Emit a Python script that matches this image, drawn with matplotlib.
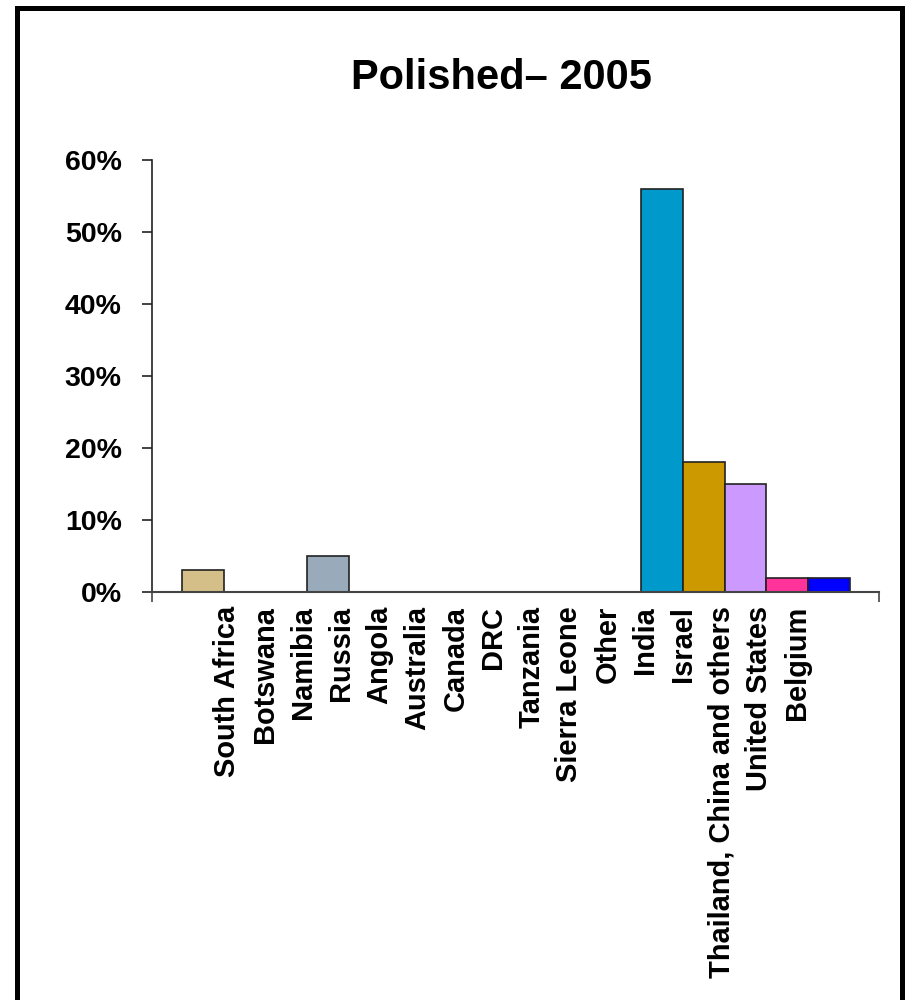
#!/usr/bin/env python3
# -*- coding: utf-8 -*-

# Polished diamonds 2005 - share by country
import matplotlib
matplotlib.use("Agg")
import matplotlib.pyplot as plt
import numpy as np
from matplotlib.patches import Rectangle
from matplotlib.ticker import FuncFormatter

countries = ["South Africa", "Botswana", "Namibia", "Russia", "Angola",
             "Australia", "Canada", "DRC", "Tanzania", "Sierra Leone",
             "Other", "India", "Israel", "Thailand, China and others",
             "United States", "Belgium"]
shares = [0.03, 0.0, 0.0, 0.05, 0.0, 0.0, 0.0, 0.0, 0.0, 0.0,
          0.0, 0.56, 0.18, 0.15, 0.019, 0.019]
colors = ["#D3BF87", "#D3BF87", "#99AABB", "#99AABB", "#99AABB",
          "#99AABB", "#99AABB", "#99AABB", "#99AABB", "#99AABB",
          "#99AABB", "#0099CC", "#CC9900", "#CC99FF", "#FF3399", "#0000FF"]

plt.rcParams['font.family'] = ['Liberation Sans', 'DejaVu Sans']
plt.rcParams['font.weight'] = 'bold'

if __name__ == "__main__":
    fig = plt.figure(figsize=(9.08, 10), dpi=100)
    ax = fig.add_axes([0.1671, 0.4083, 0.8013, 0.4317])

    x = np.arange(len(countries))
    # zero-height bars are not drawn in the original
    for i in x:
        if shares[i] > 0:
            ax.bar(i, shares[i], width=1.0, color=colors[i],
                   edgecolor="#222222", linewidth=1.2)

    ax.set_xlim(-1.234, 16.21)
    ax.set_ylim(0, 0.6)
    ax.set_yticks(np.arange(0, 0.61, 0.1))
    ax.yaxis.set_major_formatter(FuncFormatter(lambda v, p: f"{v*100:.0f}%"))
    ax.tick_params(axis='y', length=7.2, width=1.2, pad=14.4,
                   labelsize=20.5, color="#222222")

    # labels are spaced slightly tighter than the bars in the original
    label_pos = 0.58 + 0.911 * x
    ax.set_xticks(label_pos)
    ax.set_xticklabels(countries, rotation=90, fontsize=20.9,
                       fontweight='bold')
    ax.tick_params(axis='x', length=0, pad=10.3)
    ax.set_xticks([-1.234, 16.21], minor=True)
    ax.tick_params(axis='x', which='minor', length=7.2, width=1.2,
                   color="#444444")

    for s in ["top", "right"]:
        ax.spines[s].set_visible(False)
    ax.spines["left"].set_color("#222222")
    ax.spines["left"].set_linewidth(1.2)
    ax.spines["bottom"].set_color("#444444")
    ax.spines["bottom"].set_linewidth(1.5)

    fig.text(0.5525, 0.9107, "Polished\u2013 2005", ha='center',
             va='baseline', fontsize=30, fontweight='bold')

    # frame around the slide, open at the bottom
    fig.patches.append(Rectangle((16.5/908, -0.05), (901.5-16.5)/908, 1.0425,
                                 transform=fig.transFigure, fill=False,
                                 edgecolor="black", linewidth=3.6))

    fig.savefig("out.png", dpi=100)
